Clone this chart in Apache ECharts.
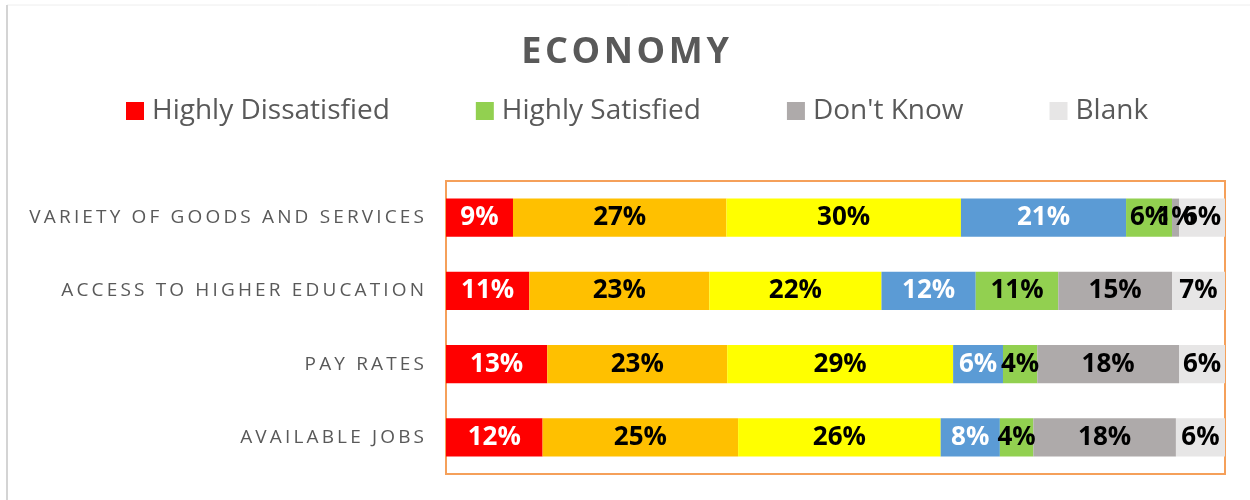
<!DOCTYPE html>
<html>
<head>
<meta charset="utf-8">
<script src="https://cdn.jsdelivr.net/npm/echarts@6/dist/echarts.min.js"></script>
<style>
  html, body { margin: 0; padding: 0; background: #fff; }
  #economy-chart { width: 1250px; height: 500px; }
</style>
</head>
<body>
<div id="economy-chart"></div>
<script>
// rows, top to bottom
let categories = ["VARIETY OF GOODS AND SERVICES", "ACCESS TO HIGHER EDUCATION", "PAY RATES", "AVAILABLE JOBS"];
let series_names = ["Highly Dissatisfied", "Dissatisfied", "Neutral", "Satisfied", "Highly Satisfied", "Don't Know", "Blank"];
let legend_names = ["Highly Dissatisfied", "Highly Satisfied", "Don't Know", "Blank"];

// shares in percent
let highly_dissatisfied = [8.6, 10.7, 13.0, 12.4];
let dissatisfied = [27.4, 23.1, 23.1, 25.1];
let neutral = [30.1, 22.1, 29.0, 26.0];
let satisfied = [21.2, 12.1, 6.4, 7.6];
let highly_satisfied = [5.9, 10.6, 4.4, 4.3];
let dont_know = [0.9, 14.6, 18.2, 18.3];
let blank = [5.9, 6.8, 5.9, 6.3];

let values = [highly_dissatisfied, dissatisfied, neutral, satisfied, highly_satisfied, dont_know, blank];
let colors = ["#FF0000", "#FFC000", "#FFFF00", "#5B9BD5", "#92D050", "#AEAAAA", "#E7E6E6"];
let label_colors = ["#ffffff", "#000000", "#000000", "#ffffff", "#000000", "#000000", "#000000"];

function spaced(s, sp) {
  return s.split("").join(sp);
}

function showEconomyChart() {
  let chart = echarts.init(document.getElementById("economy-chart"));
  let series = series_names.map(function(name, i) {
    return {
      name: name,
      type: "bar",
      stack: "total",
      barCategoryGap: "48%",
      data: values[i],
      itemStyle: { color: colors[i] },
      label: {
        show: true,
        position: "inside",
        color: label_colors[i],
        fontFamily: "Open Sans",
        fontWeight: "bold",
        fontSize: 26,
        formatter: function(p) {
          return Math.round(p.value) + "%";
        }
      }
    };
  });

  let option = {
    animation: false,
    title: {
      text: spaced("ECONOMY", "\u200A"),
      left: "center",
      top: 30,
      textStyle: {
        fontFamily: "Open Sans",
        fontWeight: "bold",
        fontSize: 36,
        color: "#595959"
      }
    },
    legend: {
      data: legend_names,
      left: 121,
      top: 92,
      itemWidth: 18,
      itemHeight: 18,
      itemGap: 86,
      icon: "rect",
      textStyle: {
        fontFamily: "Open Sans",
        fontSize: 28,
        color: "#595959",
        padding: [0, 0, 0, 3]
      }
    },
    grid: {
      left: 446,
      top: 181,
      right: 25,
      bottom: 26,
      show: true,
      borderColor: "#F5A05A",
      borderWidth: 2
    },
    xAxis: {
      type: "value",
      min: 0,
      max: 100,
      show: false
    },
    yAxis: {
      type: "category",
      data: categories,
      inverse: true,
      axisLine: { show: false },
      axisTick: { show: false },
      axisLabel: {
        margin: 22,
        fontFamily: "Open Sans",
        fontSize: 19,
        color: "#595959",
        formatter: function(v) {
          return spaced(v, "\u2009");
        }
      }
    },
    graphic: [
      { type: "line", shape: { x1: 7, y1: 5, x2: 1250, y2: 5 }, style: { stroke: "#EEEEEE", lineWidth: 1 } },
      { type: "line", shape: { x1: 7, y1: 5, x2: 7, y2: 500 }, style: { stroke: "#D4D4D4", lineWidth: 2 } }
    ],
    series: series
  };
  chart.setOption(option);
}

showEconomyChart();
</script>
</body>
</html>
